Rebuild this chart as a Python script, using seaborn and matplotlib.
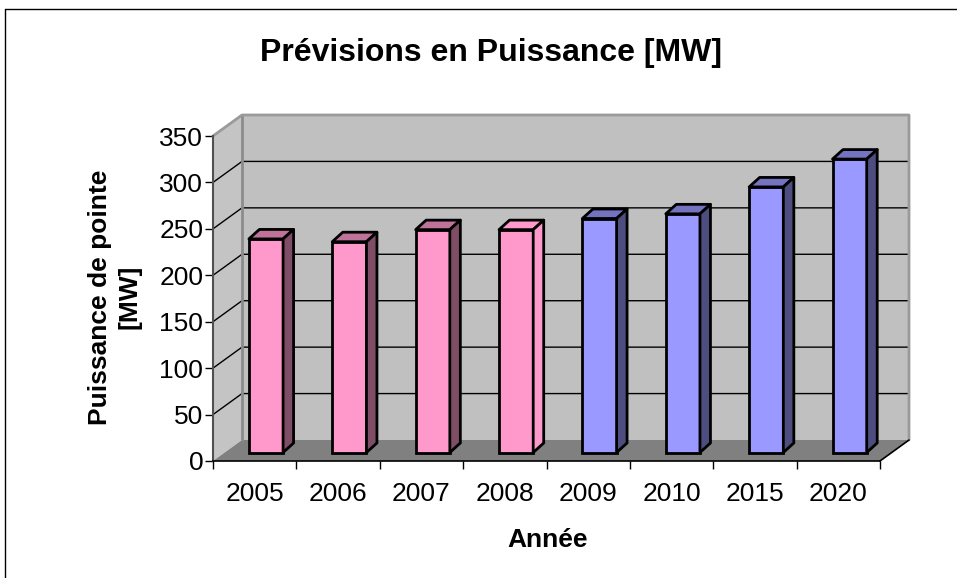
import matplotlib
matplotlib.use("Agg")
import matplotlib.pyplot as plt
from matplotlib.patches import Polygon, Rectangle
from matplotlib.lines import Line2D
import seaborn as sns
import pandas as pd

# Peak power forecasts
annees = ["2005", "2006", "2007", "2008", "2009", "2010", "2015", "2020"]
puissance = [230, 227, 240, 240, 252, 257, 286, 316]
periode = ["Historique"] * 4 + ["Prévision"] * 4
y_ticks = [0, 50, 100, 150, 200, 250, 300, 350]

# Face colours of the 3D columns: front, top, side
front_col = {"Historique": "#FF99CC", "Prévision": "#9999FF"}
top_col = ["#BF7399", "#BF7399", "#BF7399", "#FF99CC",
           "#7373BF", "#7373BF", "#7373BF", "#7373BF"]
side_col = ["#804D66", "#804D66", "#804D66", "#FF99CC",
            "#4D4D80", "#4D4D80", "#4D4D80", "#4D4D80"]

sns.set_style("white")
plt.rcParams["font.family"] = ["Liberation Sans", "DejaVu Sans"]
plt.rcParams["text.color"] = "black"
plt.rcParams["xtick.color"] = "black"
plt.rcParams["ytick.color"] = "black"
plt.rcParams["axes.labelcolor"] = "black"

W, H = 957, 578
fig = plt.figure(figsize=(W / 100, H / 100), dpi=100)
ax = fig.add_axes([213 / W, (H - 461) / H, 667 / W, 325 / H])

df = pd.DataFrame({"Année": annees, "Puissance": puissance, "Période": periode})
sns.barplot(data=df, x="Année", y="Puissance", hue="Période", palette=front_col,
            dodge=False, width=0.41, saturation=1, edgecolor="black",
            linewidth=2, legend=False, ax=ax, zorder=5)

n = len(annees)
ymax = y_ticks[-1]
ax.set_xlim(-0.5, n - 0.5)
ax.set_ylim(0, ymax)

# pixel -> data conversion for the oblique depth
kx = ax.bbox.width / n
ky = ax.bbox.height / ymax
def off(px, py):
    return px / kx, py / ky

DX, DY = off(29, 21)      # full depth of the floor
FX, FY = off(11.3, 8.5)   # depth position of the column fronts
SX, SY = off(10.5, 9.5)   # depth of each column

x0, x1 = -0.5, n - 0.5
# walls and floor
ax.add_patch(Rectangle((x0 + DX, DY), x1 - x0, ymax, facecolor="#C0C0C0",
                       edgecolor="none", clip_on=False, zorder=0))
ax.add_patch(Polygon([(x0, 0), (x0 + DX, DY), (x0 + DX, ymax + DY), (x0, ymax)],
                     closed=True, facecolor="#C4C4C4", edgecolor="none",
                     clip_on=False, zorder=0))
ax.add_patch(Polygon([(x0, 0), (x1, 0), (x1 + DX, DY), (x0 + DX, DY)],
                     closed=True, facecolor="#808080", edgecolor="none",
                     clip_on=False, zorder=1))
# gridlines on back and side walls
for v in y_ticks[1:-1]:
    ax.add_line(Line2D([x0, x0 + DX, x1 + DX], [v, v + DY, v + DY],
                       color="black", lw=1, clip_on=False, zorder=1))
# wall edges
ax.add_line(Line2D([x0 + DX, x0 + DX], [DY, ymax + DY], color="#8C8C8C",
                   lw=2, clip_on=False, zorder=2))
ax.add_line(Line2D([x0, x0 + DX, x1 + DX, x1 + DX],
                   [ymax, ymax + DY, ymax + DY, DY], color="#9A9A9A",
                   lw=2, clip_on=False, zorder=2))
ax.add_line(Line2D([x1, x1 + DX], [0, DY], color="black", lw=1.2,
                   clip_on=False, zorder=2))

# 3D columns: shift the fronts into depth, then add top and side faces
bars = [pp for pp in ax.patches if isinstance(pp, Rectangle) and pp.get_zorder() == 5]
bars.sort(key=lambda r: r.get_x())
for i, p in enumerate(bars):
    bx = p.get_x() + FX
    bw = p.get_width()
    bh = p.get_height()
    p.set_x(bx)
    p.set_y(FY)
    p.set_clip_on(False)
    b0, b1 = FY, FY + bh
    ax.add_patch(Polygon([(bx, b1), (bx + bw, b1), (bx + bw + SX, b1 + SY),
                          (bx + SX, b1 + SY)], closed=True,
                         facecolor=top_col[i], edgecolor="black", lw=2,
                         joinstyle="round", clip_on=False, zorder=6))
    ax.add_patch(Polygon([(bx + bw, b0), (bx + bw + SX, b0 + SY),
                          (bx + bw + SX, b1 + SY), (bx + bw, b1)], closed=True,
                         facecolor=side_col[i], edgecolor="black", lw=2,
                         joinstyle="round", clip_on=False, zorder=6))

# axes styling
for s in ["top", "right"]:
    ax.spines[s].set_visible(False)
ax.spines["left"].set_color("#505050")
ax.spines["left"].set_linewidth(1.5)
ax.spines["bottom"].set_color("black")
ax.spines["bottom"].set_linewidth(1.2)
for s in ["left", "bottom"]:
    ax.spines[s].set_zorder(3)
ax.set_facecolor("none")

ax.set_yticks(y_ticks)
ax.tick_params(axis="y", direction="out", length=6, width=1, color="black",
               labelsize=19, pad=1, left=True)
ax.set_xticks(range(n))
ax.set_xticklabels(annees)
ax.set_xticks([i - 0.5 for i in range(n + 1)], minor=True)
ax.tick_params(axis="x", which="major", length=0, labelsize=19, pad=15)
ax.tick_params(axis="x", which="minor", direction="out", length=6, width=1,
               color="black", bottom=True)
ax.set_xlabel("")
ax.set_ylabel("")
ax.grid(False)

fig.text(491 / W, 1 - 53 / H, "Prévisions en Puissance [MW]", fontsize=23,
         fontweight="bold", ha="center", va="center")
fig.text(548 / W, 1 - 540 / H, "Année", fontsize=19, fontweight="bold",
         ha="center", va="center")
fig.text(115 / W, 1 - 297 / H, "Puissance de pointe\n[MW]", fontsize=19,
         fontweight="bold", rotation=90, ha="center", va="center",
         multialignment="center", linespacing=1.3)

# chart area frame
fig.add_artist(Line2D([4.5 / W, 4.5 / W], [0, 1 - 9 / H], color="black",
                      lw=1, transform=fig.transFigure))
fig.add_artist(Line2D([4.5 / W, 1], [1 - 9 / H, 1 - 9 / H], color="black",
                      lw=1, transform=fig.transFigure))

fig.savefig("out.png", dpi=100)
